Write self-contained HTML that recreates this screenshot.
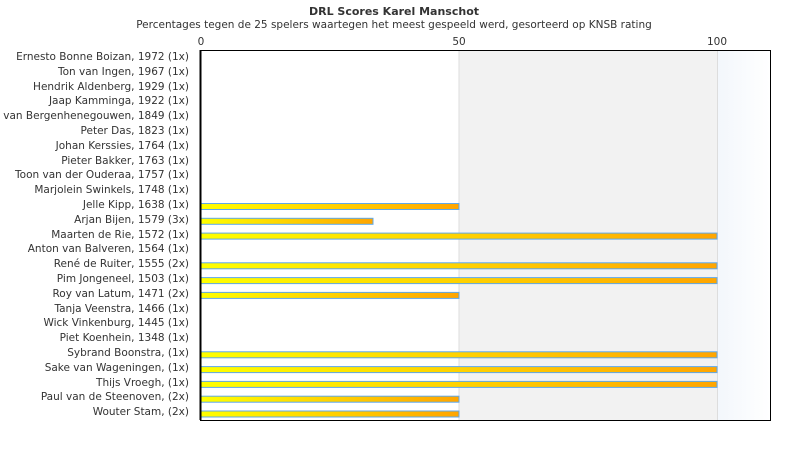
<!DOCTYPE html>
<html><head><meta charset="utf-8"><style>body{margin:0;background:#fff}</style></head><body>
<svg width="790" height="450" xmlns="http://www.w3.org/2000/svg" font-family="'DejaVu Sans', 'Liberation Sans', sans-serif">
<defs>
<linearGradient id="g" x1="0" x2="1" y1="0" y2="0"><stop offset="0" stop-color="#ffff00"/><stop offset="1" stop-color="#ffa500"/></linearGradient>
<linearGradient id="b" x1="0" x2="1"><stop offset="0" stop-color="#f3f7fc"/><stop offset="1" stop-color="#ffffff"/></linearGradient>
</defs>
<text x="394" y="15" text-anchor="middle" font-size="11" font-weight="bold" fill="#333">DRL Scores Karel Manschot</text>
<text x="394" y="28" text-anchor="middle" font-size="10.5" fill="#333">Percentages tegen de 25 spelers waartegen het meest gespeeld werd, gesorteerd op KNSB rating</text>
<rect x="459" y="50" width="258" height="370" fill="#f2f2f2"/>
<rect x="718" y="50" width="52" height="370" fill="url(#b)"/>
<line x1="459" y1="50" x2="459" y2="420" stroke="#ddd"/>
<line x1="717.5" y1="50" x2="717.5" y2="420" stroke="#ddd"/>
<rect x="200.5" y="50.5" width="570" height="370" fill="none" stroke="#000"/>
<g font-size="10.5" fill="#333" text-anchor="middle">
<text x="201" y="45">0</text><text x="459" y="45">50</text><text x="717" y="45">100</text>
</g>
<g font-size="10.5" fill="#333" text-anchor="end">
<text x="189" y="60">Ernesto Bonne Boizan, 1972 (1x)</text>
<text x="189" y="75">Ton van Ingen, 1967 (1x)</text>
<text x="189" y="90">Hendrik Aldenberg, 1929 (1x)</text>
<text x="189" y="104">Jaap Kamminga, 1922 (1x)</text>
<text x="189" y="119">van Bergenhenegouwen, 1849 (1x)</text>
<text x="189" y="134">Peter Das, 1823 (1x)</text>
<text x="189" y="149">Johan Kerssies, 1764 (1x)</text>
<text x="189" y="164">Pieter Bakker, 1763 (1x)</text>
<text x="189" y="178">Toon van der Ouderaa, 1757 (1x)</text>
<text x="189" y="193">Marjolein Swinkels, 1748 (1x)</text>
<text x="189" y="208">Jelle Kipp, 1638 (1x)</text>
<text x="189" y="223">Arjan Bijen, 1579 (3x)</text>
<text x="189" y="238">Maarten de Rie, 1572 (1x)</text>
<text x="189" y="252">Anton van Balveren, 1564 (1x)</text>
<text x="189" y="267">René de Ruiter, 1555 (2x)</text>
<text x="189" y="282">Pim Jongeneel, 1503 (1x)</text>
<text x="189" y="297">Roy van Latum, 1471 (2x)</text>
<text x="189" y="312">Tanja Veenstra, 1466 (1x)</text>
<text x="189" y="326">Wick Vinkenburg, 1445 (1x)</text>
<text x="189" y="341">Piet Koenhein, 1348 (1x)</text>
<text x="189" y="356">Sybrand Boonstra,  (1x)</text>
<text x="189" y="371">Sake van Wageningen,  (1x)</text>
<text x="189" y="386">Thijs Vroegh,  (1x)</text>
<text x="189" y="400">Paul van de Steenoven,  (2x)</text>
<text x="189" y="415">Wouter Stam,  (2x)</text>
</g>
<g fill="url(#g)" stroke="#5fa8e8" stroke-width="1">
<rect x="201" y="203.5" width="258" height="6"/>
<rect x="201" y="218.3" width="172" height="6"/>
<rect x="201" y="233.1" width="516" height="6"/>
<rect x="201" y="262.8" width="516" height="6"/>
<rect x="201" y="277.6" width="516" height="6"/>
<rect x="201" y="292.4" width="258" height="6"/>
<rect x="201" y="351.8" width="516" height="6"/>
<rect x="201" y="366.6" width="516" height="6"/>
<rect x="201" y="381.4" width="516" height="6"/>
<rect x="201" y="396.2" width="258" height="6"/>
<rect x="201" y="411" width="258" height="6"/>
</g>
<line x1="200.5" y1="50" x2="200.5" y2="420" stroke="#000" stroke-width="2"/>
</svg>
</body></html>
